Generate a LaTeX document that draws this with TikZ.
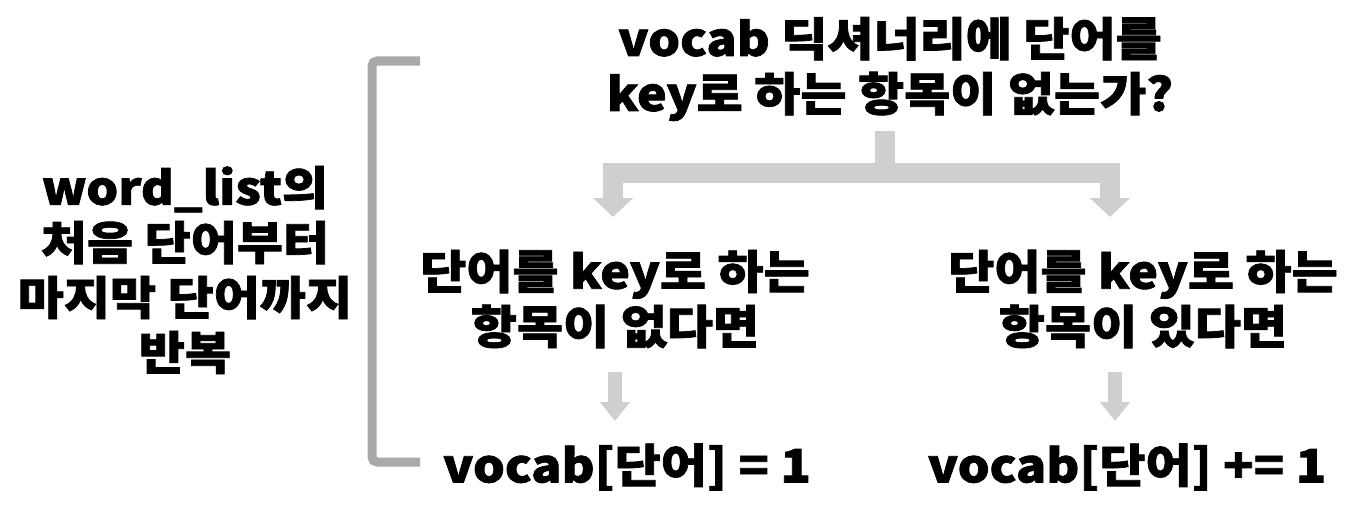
\documentclass[tikz,border=0pt]{standalone}
\usepackage{fontspec}
\setmainfont{Noto Sans CJK KR}[BoldFeatures={FakeBold=1.6,FakeStretch=1.09}]
\usetikzlibrary{arrows.meta}
\definecolor{arrowgray}{HTML}{D0CFD0}
\definecolor{brackgray}{HTML}{A9A9A9}
\tikzset{
  txt/.style={font=\fontsize{46}{55}\selectfont\bfseries, align=center, inner sep=0pt, text=black},
  bigarrow/.style={draw=arrowgray, line width=20pt, -{Triangle[width=39pt,length=19pt,fill=arrowgray]}},
  smallarrow/.style={draw=arrowgray, line width=14pt, -{Triangle[width=29pt,length=19pt,fill=arrowgray]}},
  bracketline/.style={draw=brackgray, line width=9pt, rounded corners=5pt},
}
\begin{document}
\begin{tikzpicture}[x=1pt,y=-1pt]
\useasboundingbox (0,0) rectangle (1372,511);
\node[txt] (loop) at (185,270) {word\_list의\\처음 단어부터\\마지막 단어까지\\반복};
\node[txt] (q) at (890,69) {vocab 딕셔너리에 단어를\\key로 하는 항목이 없는가?};
\node[txt] (midL) at (615,299) {단어를 key로 하는\\항목이 없다면};
\node[txt] (midR) at (1143,299) {단어를 key로 하는\\항목이 있다면};
\node[txt] (botL) at (627,467) {vocab[단어] = 1};
\node[txt] (botR) at (1127,467) {vocab[단어] += 1};
\coordinate (split) at (885,173);
\draw[draw=arrowgray, line width=20pt] (q.south -| split) ++(0,10) -- ([yshift=-10pt]split);
\draw[bigarrow] (split) -| (613,217);
\draw[bigarrow] (split) -| (1110,217);
\draw[smallarrow] (midL.south |- 0,372) -- (midL.south |- 0,421);
\draw[smallarrow] (1115,372) -- (1115,421);
\draw[bracketline] (420,61) -- (372,61) -- (372,462) -- (420,462);
\end{tikzpicture}
\end{document}
